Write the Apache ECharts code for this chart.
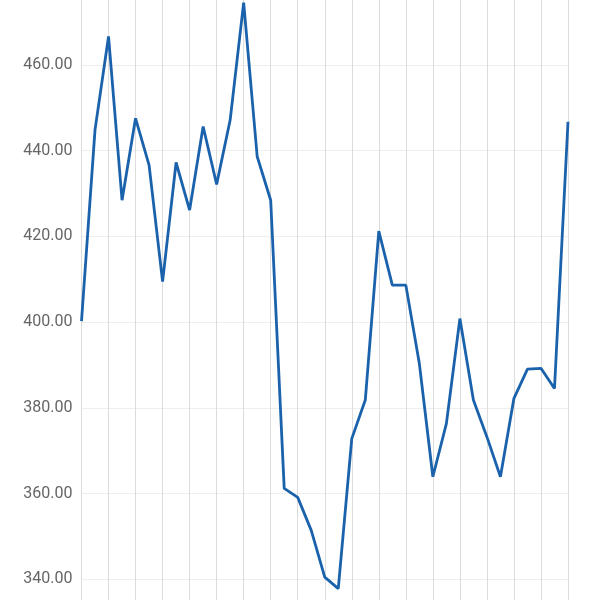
<!DOCTYPE html>
<html>
<head>
<meta charset="utf-8">
<script src="https://cdn.jsdelivr.net/npm/echarts@6/dist/echarts.min.js"></script>
<style>html,body{margin:0;padding:0;background:#fff}#c{width:600px;height:600px}</style>
</head>
<body>
<div id="c"></div>
<script>
const categories = ['1','2','3','4','5','6','7','8','9','10','11','12','13','14','15','16','17','18','19','20','21','22','23','24','25','26','27','28','29','30','31','32','33','34','35','36','37'];
const values = [400.2, 444.8, 466.6, 428.4, 447.5, 436.6, 409.4, 437.2, 426.1, 445.6, 432.1, 447.1, 474.5, 438.6, 428.4, 361.2, 359.1, 351.4, 340.5, 337.8, 372.8, 381.8, 421.2, 408.6, 408.6, 390.3, 363.9, 376.3, 400.8, 381.8, 373.2, 363.9, 382.2, 389.0, 389.2, 384.5, 446.7];
const yMin = 320, yMax = 480, yStep = 20;

const chart = echarts.init(document.getElementById('c'), null, {renderer: 'canvas'});
chart.setOption({
  animation: false,
  grid: {left: 81.5, right: 32, top: -21, bottom: -65, containLabel: false, outerBoundsMode: 'none'},
  xAxis: {
    type: 'category',
    data: categories,
    boundaryGap: false,
    axisLine: {show: false},
    axisTick: {show: false},
    axisLabel: {show: false},
    splitLine: {show: true, lineStyle: {color: '#dcdcdc', width: 1}}
  },
  yAxis: {
    type: 'value',
    min: yMin,
    max: yMax,
    interval: yStep,
    axisLine: {show: false},
    axisTick: {show: false},
    axisLabel: {
      color: '#666',
      fontSize: 16,
      fontFamily: 'Roboto',
      margin: 9,
      formatter: v => v.toFixed(2)
    },
    splitLine: {show: true, lineStyle: {color: '#eeeeee', width: 1}}
  },
  series: [{
    type: 'line',
    data: values,
    symbol: 'none',
    lineStyle: {color: '#1b62ac', width: 2.8}
  }]
});
</script>
</body>
</html>
